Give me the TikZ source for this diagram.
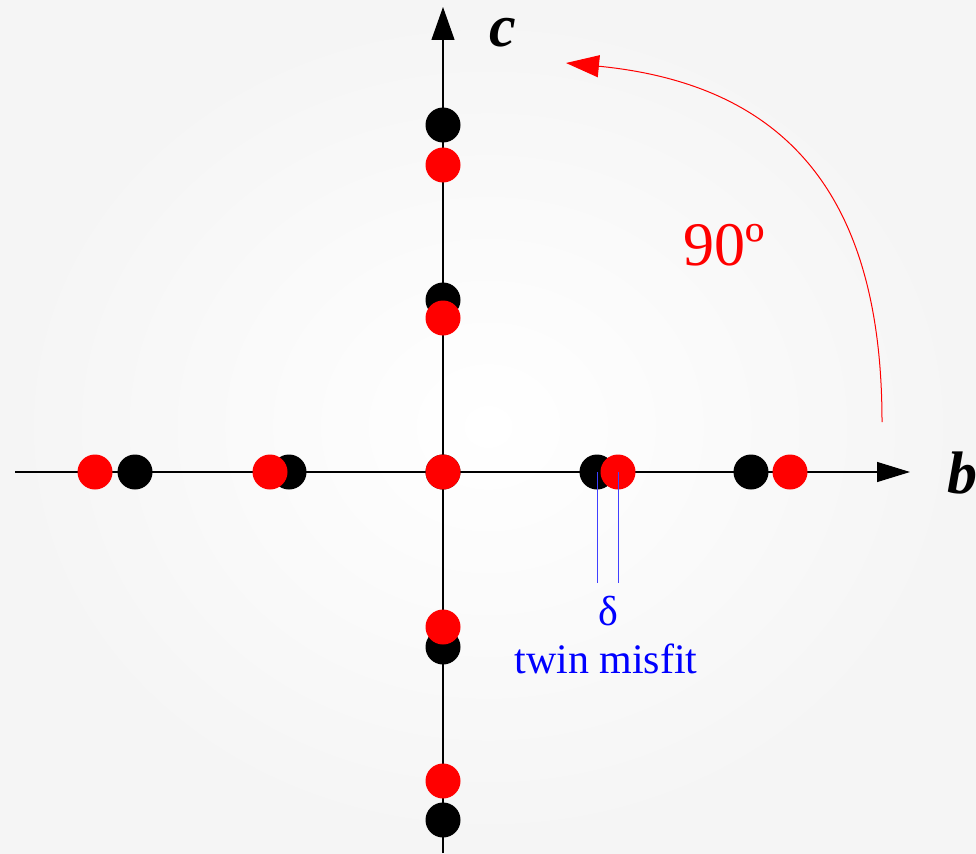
\documentclass[tikz,border=0pt]{standalone}
\usepackage{fontspec}
\setmainfont{Liberation Serif}
\usetikzlibrary{arrows.meta}
\begin{document}
\begin{tikzpicture}[x=1pt,y=-1pt,
  blackdot/.style={circle,fill=black,inner sep=0pt,minimum size=35pt},
  reddot/.style={circle,fill=red,inner sep=0pt,minimum size=35pt},
  axis/.style={line width=1.2pt,draw=black},
  axislabel/.style={font=\fontsize{60}{60}\selectfont\bfseries\itshape,inner sep=0pt},
  misfit/.style={draw=blue!75,line width=1pt},
  bluetext/.style={text=blue,font=\fontsize{42}{42}\selectfont,inner sep=0pt},
  rotarrow/.style={draw=red,line width=1pt,-{Triangle[length=33pt,width=22pt]}}]
\useasboundingbox (0,0) rectangle (976,853);
\shade[inner color=white,outer color=black!4] (0,0) rectangle (976,853);
% axes
\coordinate (bstart) at (15,472);
\coordinate (bend) at (910,472);
\coordinate (cstart) at (443,853);
\coordinate (cend) at (443,7);
\draw[axis,-{Triangle[length=33pt,width=20pt]}] (bstart) -- (bend);
\draw[axis,-{Triangle[length=33pt,width=23pt]}] (cstart) -- (cend);
\node[axislabel,anchor=base] (clab) at (503,47) {c};
\node[axislabel,anchor=base west] (blab) at (947,493) {b};
% black dots
\foreach \x [count=\i] in {135,289,443,597,751} \node[blackdot] (kb\i) at (\x,472) {};
\foreach \y [count=\i] in {125,300,647,820} \node[blackdot] (kc\i) at (443,\y) {};
% red dots
\foreach \x [count=\i] in {95,270,443,618,790} \node[reddot] (rb\i) at (\x,472) {};
\foreach \y [count=\i] in {165,318,627,781} \node[reddot] (rc\i) at (443,\y) {};
% misfit lines
\coordinate (m1) at (597,583);
\coordinate (m2) at (618,583);
\draw[misfit] (kb4.center) -- (m1);
\draw[misfit] (rb4.center) -- (m2);
\node[bluetext,anchor=base] (delta) at (608,625) {δ};
\node[bluetext,anchor=base] (twin) at (606,673) {twin misfit};
% rotation arrow
\coordinate (rs) at (882,422);
\coordinate (re) at (566,63);
\draw[rotarrow] (rs) .. controls (882,200) and (790,85) .. (re);
\node[text=red,font=\fontsize{62}{62}\selectfont,inner sep=0pt,anchor=base] (ang) at (724,265) {90º};
\end{tikzpicture}
\end{document}
